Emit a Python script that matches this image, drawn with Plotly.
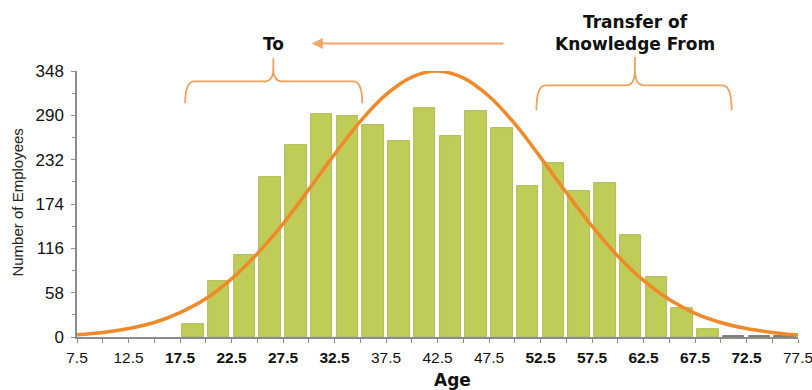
import plotly.graph_objects as go

# Age bins (centre of each 2.5-year bin) and employee head counts
bin_centers = [18.75, 21.25, 23.75, 26.25, 28.75, 31.25, 33.75, 36.25,
               38.75, 41.25, 43.75, 46.25, 48.75, 51.25, 53.75, 56.25,
               58.75, 61.25, 63.75, 66.25, 68.75, 71.25, 73.75, 76.25]
employees = [17, 73, 107, 209, 251, 292, 289, 277,
             256, 299, 263, 296, 274, 197, 228, 191,
             201, 133, 78, 38, 10, 1, 1, 1]

# Fitted distribution curve, sampled every 2.5 years
curve_age = [7.5, 10, 12.5, 15, 17.5, 20, 22.5, 25, 27.5, 30, 32.5, 35,
             37.5, 40, 42.5, 45, 47.5, 50, 52.5, 55, 57.5, 60, 62.5, 65,
             67.5, 70, 72.5, 75, 77.5]
curve_count = [3, 6, 11, 19, 32, 50, 76, 109, 148, 193, 239, 282,
               317, 340, 348, 339, 315, 279, 235, 189, 145, 106, 74, 49,
               31, 19, 11, 6, 2.5]

# Axis ticks
x_tickvals = [7.5, 12.5, 17.5, 22.5, 27.5, 32.5, 37.5, 42.5,
              47.5, 52.5, 57.5, 62.5, 67.5, 72.5, 77.5]
x_bold = {17.5, 22.5, 27.5, 32.5, 52.5, 57.5, 62.5, 67.5, 72.5}
y_tickvals = [0, 58, 116, 174, 232, 290, 348]

x_ticktext = [f"<b>{v}</b>" if v in x_bold else f"{v}" for v in x_tickvals]

BAR = "#c0cc58"
ORANGE = "#f0892a"
BRACE = "#eca25e"
NARROW = "Liberation Sans, Arial, sans-serif"
HEAVY = "DejaVu Sans"

bar_lines = ["#a6b14a" if v > 3 else "#5a5a5a" for v in employees]

fig = go.Figure()
fig.add_trace(go.Bar(
    x=bin_centers, y=employees, width=2.1,
    marker=dict(color=BAR, line=dict(color=bar_lines, width=0.8)),
    hoverinfo="x+y", showlegend=False,
))
fig.add_trace(go.Scatter(
    x=curve_age, y=curve_count, mode="lines",
    line=dict(color=ORANGE, width=3.5, shape="spline", smoothing=1.0),
    cliponaxis=False, showlegend=False,
))


def brace(x0, xc, x1, y_end, y_bar, y_tip):
    """Curly brace opening downwards; x in data units, y in paper units."""
    dx = 0.9
    dy = (y_tip - y_bar) * 0.55
    return (f"M {x0},{y_end} Q {x0},{y_bar} {x0 + dx},{y_bar} "
            f"L {xc - dx},{y_bar} Q {xc},{y_bar} {xc},{y_bar + dy} "
            f"L {xc},{y_tip} M {xc},{y_bar + dy} Q {xc},{y_bar} {xc + dx},{y_bar} "
            f"L {x1 - dx},{y_bar} Q {x1},{y_bar} {x1},{y_end}")


fig.add_shape(type="path", xref="x", yref="paper",
              path=brace(18.0, 26.56, 35.2, 0.879, 0.961, 1.048),
              line=dict(color=BRACE, width=1.8))
fig.add_shape(type="path", xref="x", yref="paper",
              path=brace(52.1, 61.67, 71.06, 0.852, 0.946, 1.053),
              line=dict(color=BRACE, width=1.8))

# Arrow from "Transfer of Knowledge From" to "To"
fig.add_annotation(x=30.3, y=1.103, xref="x", yref="paper",
                   ax=49.05, ay=0, axref="x", ayref="pixel",
                   text="", showarrow=True, arrowhead=2, arrowsize=1.1,
                   arrowwidth=2, arrowcolor="#f3a66a")

fig.add_annotation(x=26.56, y=1.103, xref="x", yref="paper",
                   xanchor="center", yanchor="middle",
                   text="To", showarrow=False,
                   font=dict(family=HEAVY, size=17, color="#111111", weight="bold"))
fig.add_annotation(x=61.67, y=1.144, xref="x", yref="paper",
                   xanchor="center", yanchor="middle",
                   text="Transfer of<br>Knowledge From", showarrow=False,
                   font=dict(family=HEAVY, size=17, color="#111111", weight="bold"))

fig.add_annotation(x=43.96, y=-0.163, xref="x", yref="paper",
                   xanchor="center", yanchor="middle",
                   text="Age", showarrow=False,
                   font=dict(family=HEAVY, size=17, color="#111111", weight="bold"))
fig.add_annotation(x=-0.083, y=0.506, xref="paper", yref="paper",
                   xanchor="center", yanchor="middle",
                   text="Number of Employees", textangle=-90, showarrow=False,
                   font=dict(family=NARROW, size=15, color="#222222"))

fig.update_layout(
    width=812, height=390,
    margin=dict(l=77, r=14, t=71, b=53),
    plot_bgcolor="white", paper_bgcolor="white",
    bargap=0,
)
fig.update_xaxes(
    range=[7.5, 77.5], tickvals=x_tickvals, ticktext=x_ticktext,
    showgrid=False, zeroline=False, automargin=False,
    showline=True, linecolor="#8c8c8c", linewidth=1.5,
    ticks="outside", ticklen=4, tickcolor="#8c8c8c",
    minor=dict(dtick=2.5, tick0=7.5, ticks="outside", ticklen=4, tickcolor="#8c8c8c"),
    ticklabelstandoff=2, ticklabeloverflow="allow",
    tickfont=dict(family=NARROW, size=15.5, color="#111111"),
)
fig.update_yaxes(
    range=[0, 348], tickvals=y_tickvals,
    showgrid=False, zeroline=False, automargin=False,
    showline=True, linecolor="#8c8c8c", linewidth=1.5,
    ticks="outside", ticklen=4, tickcolor="#8c8c8c",
    minor=dict(dtick=29, tick0=0, ticks="outside", ticklen=3, tickcolor="#8c8c8c"),
    ticklabelstandoff=4,
    tickfont=dict(family=NARROW, size=17, color="#111111"),
)

fig.write_html("out.html")
